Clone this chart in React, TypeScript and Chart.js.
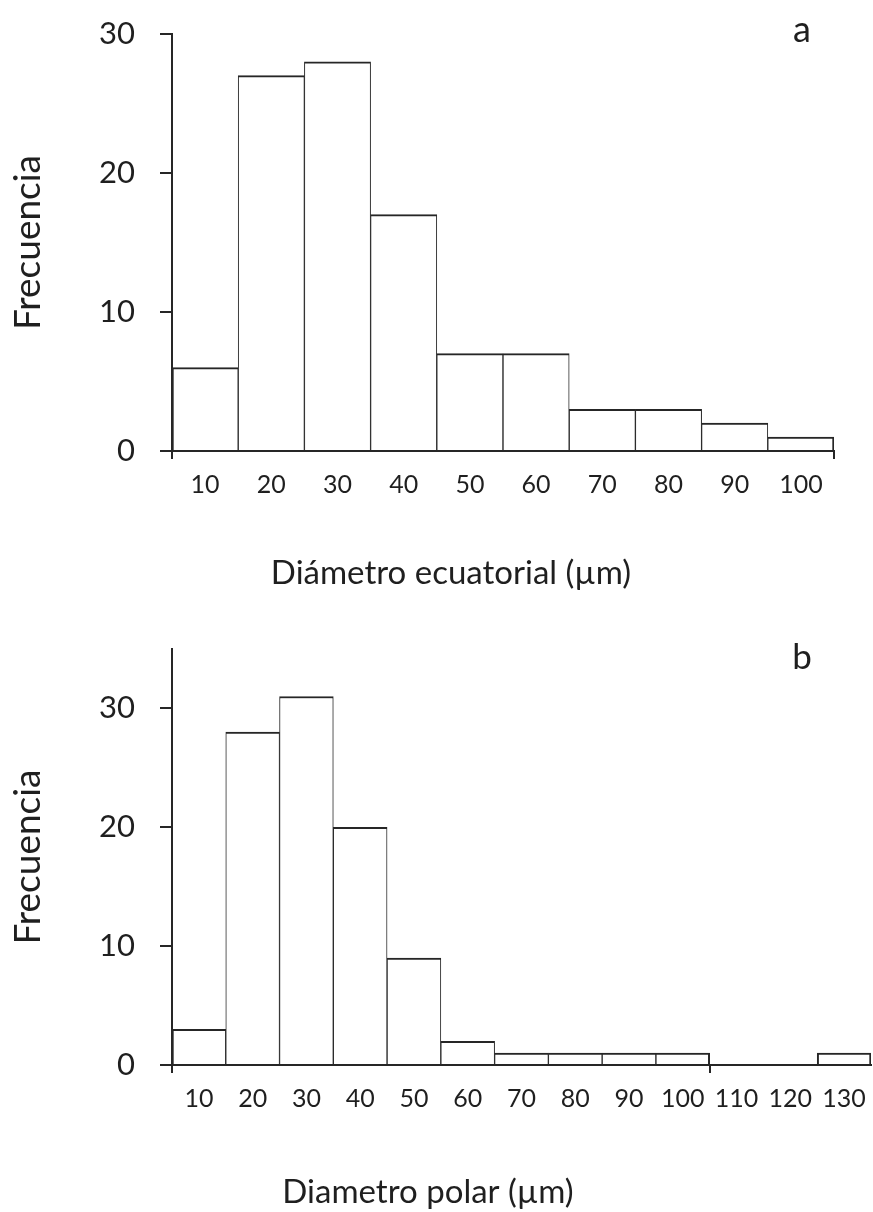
import { useEffect, useRef } from "react";
import { Chart, registerables } from "chart.js";

Chart.register(...registerables);

// ---- data ----
const binsA = ["10", "20", "30", "40", "50", "60", "70", "80", "90", "100"];
const freqA = [6, 27, 28, 17, 7, 7, 3, 3, 2, 1];
const yTicksA = [0, 10, 20, 30];
const yMaxA = 30;

const binsB = ["10", "20", "30", "40", "50", "60", "70", "80", "90", "100", "110", "120", "130"];
const freqB = [3, 28, 31, 20, 9, 2, 1, 1, 1, 1, 0, 0, 1];
const yTicksB = [0, 10, 20, 30];
const yMaxB = 35;

const yTitle = "Frecuencia";
const xTitleA = "Diámetro ecuatorial (µm)";
const xTitleB = "Diametro polar (µm)";
const panelA = "a";
const panelB = "b";

const LINE = "#262626";
const TEXT = "#1f1f1f";
const FONT = "Lato";

type TextItem = { text: string; x: number; y: number; size: number };

function textPlugin(items: TextItem[]) {
  return {
    id: "panelText",
    afterDraw(chart: any) {
      const ctx = chart.ctx;
      ctx.save();
      ctx.fillStyle = TEXT;
      ctx.textAlign = "center";
      ctx.textBaseline = "alphabetic";
      for (const t of items) {
        ctx.font = `${t.size}px ${FONT}`;
        ctx.fillText(t.text, t.x, t.y);
      }
      ctx.restore();
    },
  };
}

function makeConfig(
  labels: string[],
  data: number[],
  yTicks: number[],
  yMax: number,
  xHeight: number,
  padding: { top: number; right: number },
  tickEdges: number[],
  items: TextItem[]
): any {
  const n = labels.length;
  return {
    type: "bar",
    data: {
      labels,
      datasets: [
        {
          data,
          backgroundColor: "#ffffff",
          borderColor: LINE,
          borderWidth: (ctx: any) => {
            const i = ctx.dataIndex;
            const leftEdge = i === 0 || data[i - 1] === 0;
            const rightEdge = i === n - 1 || data[i + 1] === 0;
            return { top: 2, left: leftEdge ? 2 : 1, right: rightEdge ? 2 : 1, bottom: 0 };
          },
          barPercentage: 1,
          categoryPercentage: 1,
        },
      ],
    },
    options: {
      responsive: false,
      animation: false,
      layout: { padding: { top: padding.top, right: padding.right, left: 0, bottom: 0 } },
      plugins: { legend: { display: false }, tooltip: { enabled: false } },
      scales: {
        x: {
          type: "category",
          offset: true,
          grid: {
            offset: true,
            drawOnChartArea: false,
            drawTicks: true,
            tickLength: 8,
            lineWidth: 2,
            tickColor: (ctx: any) => {
              const i = ctx.index === undefined ? n : ctx.index;
              return tickEdges.includes(i) ? LINE : "rgba(0,0,0,0)";
            },
          },
          border: { display: true, color: LINE, width: 2 },
          ticks: {
            autoSkip: false,
            maxRotation: 0,
            minRotation: 0,
            font: { family: FONT, size: 25 },
            color: TEXT,
            padding: 11,
          },
          afterFit: (s: any) => {
            s.height = xHeight;
            s.paddingLeft = 0;
            s.paddingRight = 0;
          },
        },
        y: {
          min: 0,
          max: yMax,
          ticks: {
            stepSize: 10,
            font: { family: FONT, size: 31 },
            color: TEXT,
            padding: 25,
          },
          afterBuildTicks: (s: any) => {
            s.ticks = s.ticks.filter((t: any) => yTicks.includes(t.value));
          },
          grid: {
            drawOnChartArea: false,
            drawTicks: true,
            tickLength: 12,
            color: LINE,
            lineWidth: 2,
          },
          border: { display: true, color: LINE, width: 2 },
          title: {
            display: true,
            text: yTitle,
            font: { family: FONT, size: 37 },
            color: TEXT,
            padding: { top: 6, bottom: 0 },
          },
          afterFit: (s: any) => {
            s.width = 172;
            s.paddingTop = 0;
            s.paddingBottom = 0;
          },
        },
      },
    },
    plugins: [textPlugin(items)],
  };
}

function Histogram(props: { config: any; width: number; height: number }) {
  const ref = useRef<HTMLCanvasElement | null>(null);
  useEffect(() => {
    if (!ref.current) return;
    const chart = new Chart(ref.current, props.config);
    return () => chart.destroy();
  }, []);
  return (
    <canvas
      ref={ref}
      width={props.width}
      height={props.height}
      style={{ display: "block", width: props.width, height: props.height }}
    />
  );
}

export default function App() {
  const configA = makeConfig(
    binsA,
    freqA,
    yTicksA,
    yMaxA,
    149,
    { top: 34, right: 39 },
    [0, 10],
    [
      { text: panelA, x: 802, y: 42, size: 36 },
      { text: xTitleA, x: 451, y: 584, size: 33 },
    ]
  );
  const configB = makeConfig(
    binsB,
    freqB,
    yTicksB,
    yMaxB,
    147,
    { top: 49, right: 2 },
    [0, 10],
    [
      { text: panelB, x: 802, y: 69, size: 35 },
      { text: xTitleB, x: 428, y: 603, size: 33 },
    ]
  );
  return (
    <div style={{ position: "absolute", left: 0, top: 0, width: 873, height: 1212, background: "#fff" }}>
      <Histogram config={configA} width={873} height={600} />
      <Histogram config={configB} width={873} height={612} />
    </div>
  );
}
